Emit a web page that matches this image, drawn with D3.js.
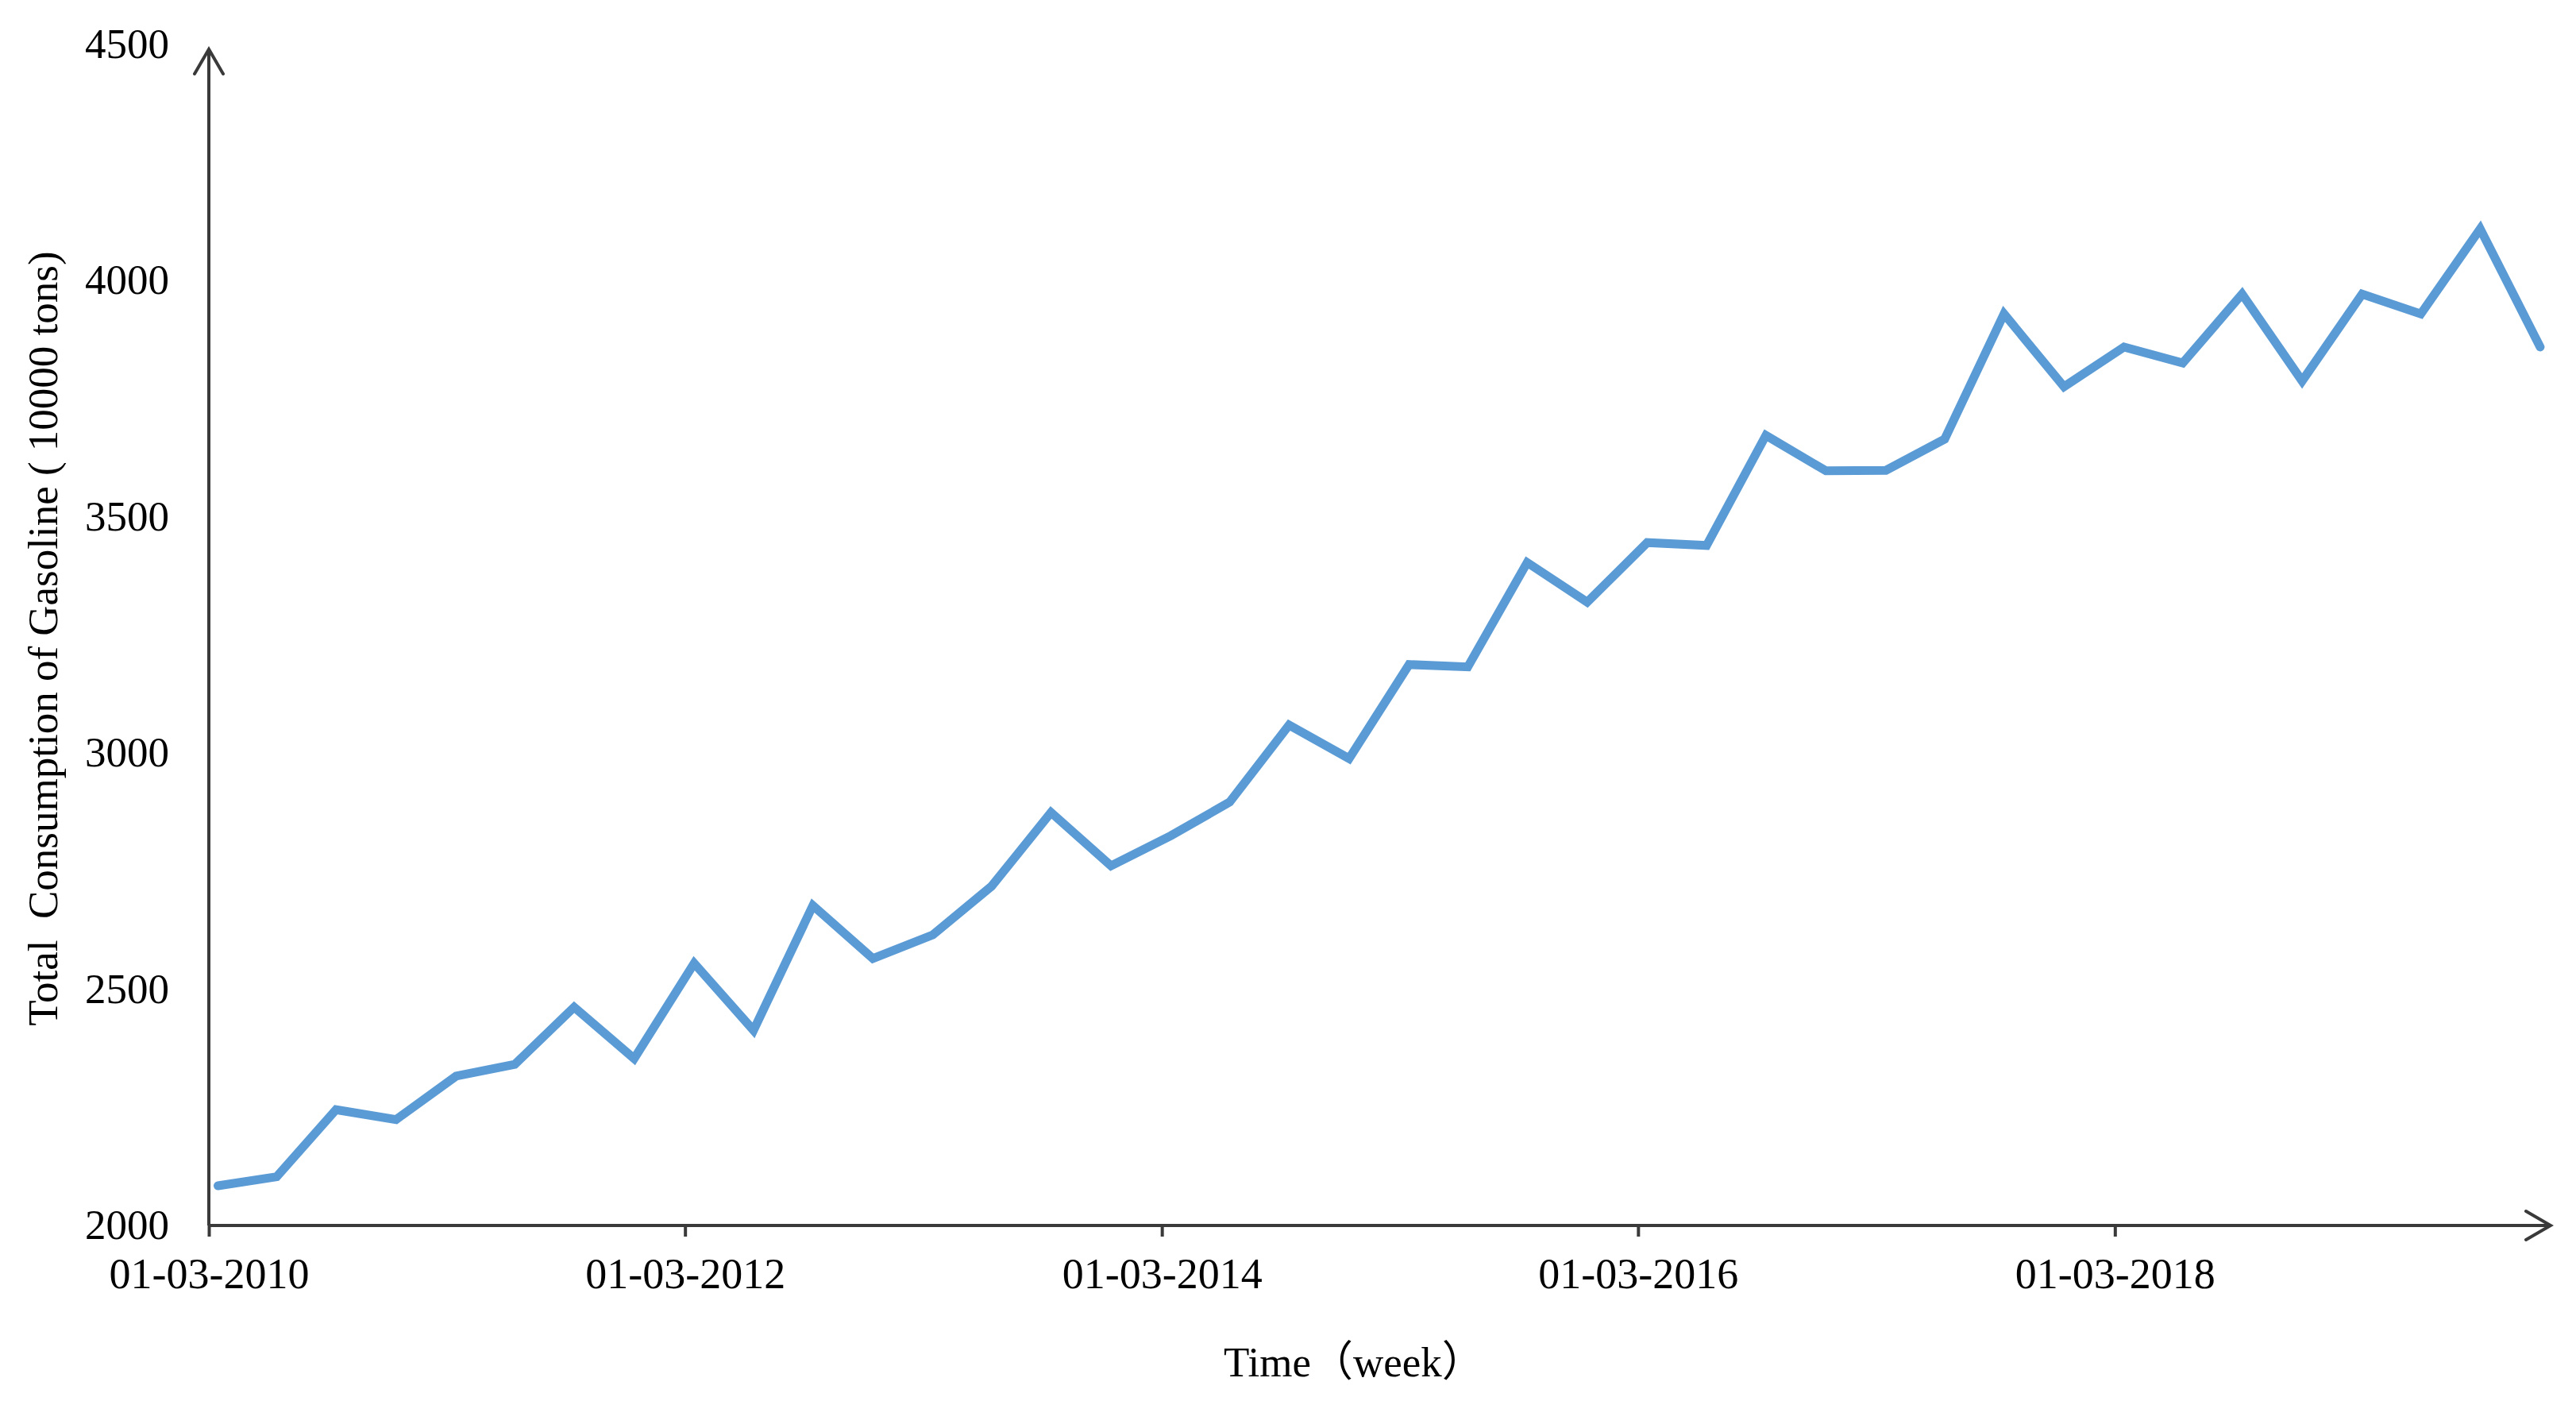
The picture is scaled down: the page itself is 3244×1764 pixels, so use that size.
<!DOCTYPE html>
<html>
<head>
<meta charset="utf-8">
<script src="https://cdn.jsdelivr.net/npm/d3@7"></script>
<style>
  body { margin: 0; background: #fff; }
  text { font-family: "Liberation Serif", "Times New Roman", serif; fill: #000; }
</style>
</head>
<body>
<svg id="svg" width="3244" height="1764"></svg>
<script>
// quarterly readings, 10000 tons
var values = [2084, 2103, 2245, 2224, 2316, 2341, 2462, 2353, 2555, 2413,
              2677, 2565, 2615, 2718, 2874, 2761, 2825, 2896, 3059, 2988,
              3187, 3182, 3403, 3319, 3445, 3439, 3672, 3597, 3598, 3664,
              3929, 3775, 3859, 3825, 3971, 3787, 3971, 3929, 4109, 3859];
var firstDate = "2010-01-17";
var tickDates = ["2010-01-03", "2012-01-03", "2014-01-03", "2016-01-03", "2018-01-03"];
var yTicks = [2000, 2500, 3000, 3500, 4000, 4500];

var parse = d3.timeParse("%Y-%m-%d");
var start = parse(firstDate);
var data = values.map(function (v, i) {
    return { date: d3.timeMonth.offset(start, 3 * i), value: v };
});

var svg = d3.select("#svg");
var axisColor = "#3a3a3a";

var x = d3.scaleTime()
    .domain([parse("2010-01-03"), parse("2020-01-03")])
    .range([263, 3263]);
var y = d3.scaleLinear()
    .domain([2000, 4500])
    .range([1543, 55.5]);

// arrow heads
svg.append("defs").append("marker")
    .attr("id", "arrow")
    .attr("markerUnits", "userSpaceOnUse")
    .attr("viewBox", "-40 -25 50 50")
    .attr("markerWidth", 50)
    .attr("markerHeight", 50)
    .attr("refX", 0)
    .attr("refY", 0)
    .attr("orient", "auto")
    .append("path")
    .attr("d", "M-31,-18L0,0L-31,18")
    .attr("fill", "none")
    .attr("stroke", axisColor)
    .attr("stroke-width", 4)
    .attr("stroke-linecap", "round");

// x axis ticks + labels
var xAxis = svg.append("g")
    .attr("transform", "translate(0," + y(2000) + ")")
    .call(d3.axisBottom(x)
        .tickValues(tickDates.map(parse))
        .tickFormat(d3.timeFormat("%m-%d-%Y"))
        .tickSize(14)
        .tickSizeOuter(0)
        .tickPadding(27));
xAxis.select(".domain").remove();
xAxis.selectAll(".tick line").attr("stroke", axisColor).attr("stroke-width", 4);
xAxis.selectAll("text").style("font-size", "54px").attr("fill", "#000");

// y axis labels
var yAxis = svg.append("g")
    .attr("transform", "translate(263,0)")
    .call(d3.axisLeft(y)
        .tickValues(yTicks)
        .tickFormat(d3.format("d"))
        .tickSize(0)
        .tickPadding(50));
yAxis.select(".domain").remove();
yAxis.selectAll("text").style("font-size", "53px").attr("fill", "#000");

// axis lines with arrows
svg.append("line")
    .attr("x1", 263).attr("y1", y(2000))
    .attr("x2", 3212).attr("y2", y(2000))
    .attr("stroke", axisColor).attr("stroke-width", 4)
    .attr("marker-end", "url(#arrow)");
svg.append("line")
    .attr("x1", 263).attr("y1", y(2000))
    .attr("x2", 263).attr("y2", 62)
    .attr("stroke", axisColor).attr("stroke-width", 4)
    .attr("marker-end", "url(#arrow)");

// series
var line = d3.line()
    .x(function (d) { return x(d.date); })
    .y(function (d) { return y(d.value); });

svg.append("path")
    .datum(data)
    .attr("d", line)
    .attr("fill", "none")
    .attr("stroke", "#5B9BD5")
    .attr("stroke-width", 11)
    .attr("stroke-linejoin", "miter")
    .attr("stroke-linecap", "round");

// titles
svg.append("text")
    .attr("x", 1541)
    .attr("y", 1733)
    .style("font-size", "53px")
    .style("font-family", "'Liberation Serif', 'Noto Sans CJK SC', serif")
    .text("Time（week）");

svg.append("text")
    .attr("transform", "translate(72,804) rotate(-90)")
    .attr("text-anchor", "middle")
    .style("font-size", "53px")
    .style("white-space", "pre")
    .text("Total  Consumption of Gasoline ( 10000 tons)");
</script>
</body>
</html>
